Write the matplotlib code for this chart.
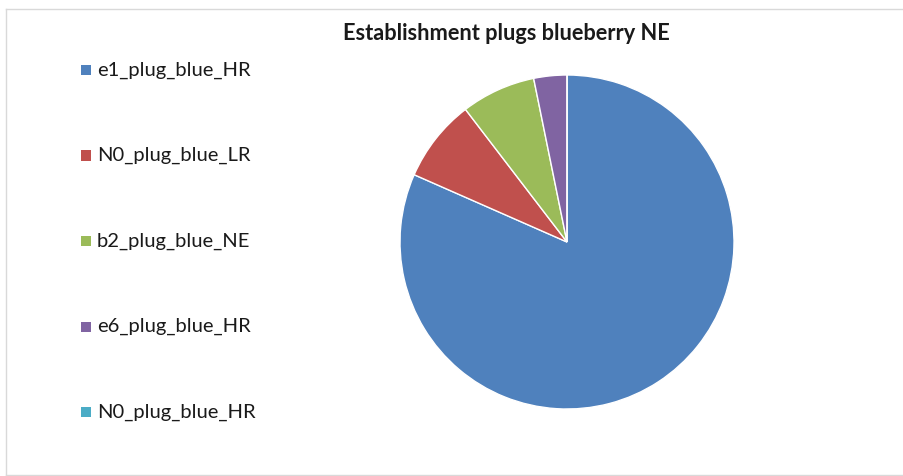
import matplotlib
matplotlib.use("Agg")
import matplotlib.pyplot as plt
from matplotlib.patches import Rectangle
from matplotlib.lines import Line2D

labels = ["e1_plug_blue_HR", "N0_plug_blue_LR", "b2_plug_blue_NE", "e6_plug_blue_HR", "N0_plug_blue_HR"]
values = [81.6, 8.0, 7.2, 3.2, 0.0]
colors = ["#4F81BD", "#C0504D", "#9BBB59", "#8064A2", "#4BACC6"]
title = "Establishment plugs blueberry NE"

W, H = 904, 476
fig = plt.figure(figsize=(W / 100, H / 100), dpi=100)
fig.patch.set_facecolor("white")
plt.rcParams["font.family"] = ["Lato", "DejaVu Sans"]

# chart border: top, left, bottom only (right side runs off the image)
bx0, by_top, by_bot = 6.5, 8.5, 474.5
for xs, ys in [([bx0, W], [by_top, by_top]),
               ([bx0, bx0], [by_top, by_bot]),
               ([bx0, W], [by_bot, by_bot])]:
    fig.add_artist(Line2D([x / W for x in xs], [1 - y / H for y in ys],
                          transform=fig.transFigure, color="#d9d9d9",
                          linewidth=1.0))

cx, cy, r = 567, 242, 167
ax = fig.add_axes([(cx - r) / W, (H - cy - r) / H, 2 * r / W, 2 * r / H])
ax.pie(values, colors=colors, startangle=90, counterclock=False,
       wedgeprops=dict(edgecolor="white", linewidth=1.0))
ax.set_xlim(-1, 1)
ax.set_ylim(-1, 1)
ax.set_aspect("equal")
ax.axis("off")

fig.text(506 / W, 1 - 33 / H, title, ha="center", va="center",
         fontsize=15.7, fontweight="bold", color="#1a1a1a")

y0, dy = 70, 85.5
for i, (lab, col) in enumerate(zip(labels, colors)):
    y = y0 + i * dy
    fig.patches.append(Rectangle((81 / W, 1 - (y + 5) / H), 10 / W, 10 / H,
                                 transform=fig.transFigure, facecolor=col,
                                 edgecolor="none"))
    fig.text(97 / W, 1 - y / H, lab, ha="left", va="center",
             fontsize=14.5, color="#1a1a1a")

fig.savefig("out.png", dpi=100)
